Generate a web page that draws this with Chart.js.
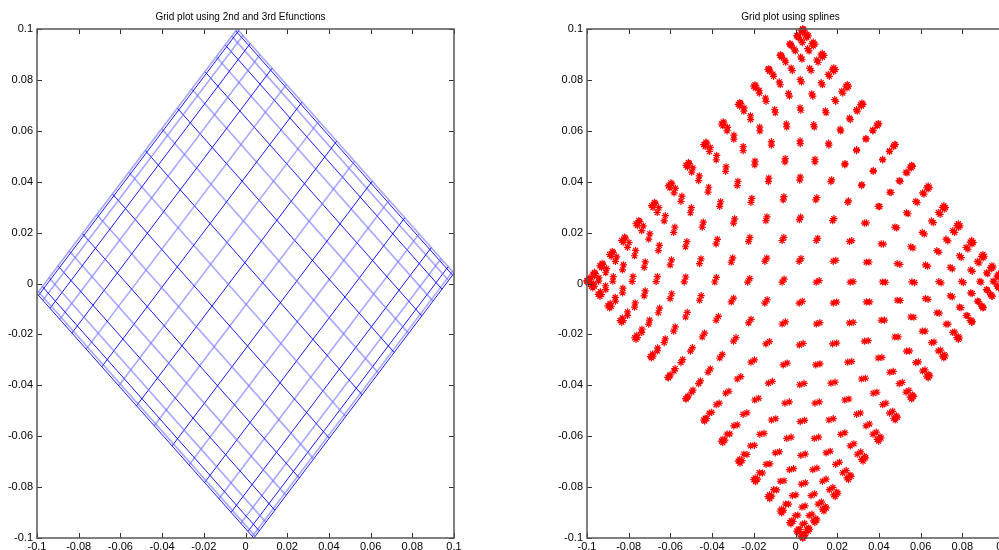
<!DOCTYPE html>
<html><head><meta charset="utf-8">
<script src="https://cdn.jsdelivr.net/npm/chart.js@4.4.1/dist/chart.umd.min.js"></script>
<style>
html,body{margin:0;padding:0;background:#fff;overflow:hidden;width:999px;height:550px;}
#wrap{position:relative;width:999px;height:550px;overflow:hidden;background:#fff;}
canvas{position:absolute;top:0;}
</style></head><body>
<div id="wrap">
<canvas id="c1" width="480" height="550" style="left:0px"></canvas>
<canvas id="c2" width="480" height="550" style="left:550px"></canvas>
</div>
<script>
// ---- tick values and labels (both axes, both plots) ----
const tickValues = [-0.1, -0.08, -0.06, -0.04, -0.02, 0, 0.02, 0.04, 0.06, 0.08, 0.1];
const tickLabels = ['-0.1', '-0.08', '-0.06', '-0.04', '-0.02', '0', '0.02', '0.04', '0.06', '0.08', '0.1'];
const titles = ['Grid plot using 2nd and 3rd Efunctions', 'Grid plot using splines'];

// ---- left plot: mapped grid, corners in order L, T, R, B ----
const efCornerX = [-0.1, -0.004, 0.1, 0.004];
const efCornerY = [-0.004, 0.1, 0.004, -0.1];
// relative position of each grid line along the edges
const efLinePos = [0, 0.007, 0.027, 0.060, 0.105, 0.161, 0.227, 0.299, 0.377, 0.459,
                   0.541, 0.623, 0.701, 0.773, 0.839, 0.895, 0.940, 0.973, 0.993, 1];

// ---- right plot: spline-evaluated grid nodes, corners L, T, R, B ----
const spCornerX = [-0.1, 0.0035, 0.1, 0.0035];
const spCornerY = [0.001, 0.1, 0.001, -0.1];
const spPosU  = [0, 0.007, 0.027, 0.060, 0.105, 0.161, 0.227, 0.299, 0.377, 0.459,
                 0.541, 0.623, 0.701, 0.773, 0.839, 0.895, 0.940, 0.973, 0.993, 1];
const spPosV  = [0, 0.007, 0.027, 0.060, 0.105, 0.161, 0.227, 0.299, 0.377, 0.459,
                 0.541, 0.623, 0.701, 0.773, 0.839, 0.895, 0.940, 0.973, 0.993, 1];
// second (overlapping) evaluation, slightly displaced nodes
const spPosU2 = [0, 0.010, 0.034, 0.070, 0.117, 0.174, 0.240, 0.312, 0.389, 0.470,
                 0.551, 0.631, 0.708, 0.778, 0.842, 0.897, 0.941, 0.974, 0.994, 1];
const spPosV2 = [0, 0.004, 0.021, 0.052, 0.097, 0.154, 0.221, 0.294, 0.375, 0.458,
                 0.545, 0.629, 0.709, 0.781, 0.847, 0.902, 0.945, 0.977, 0.995, 1];

function mapUV(cx, cy, u, v) {
  // bilinear: (0,0)=L, (1,0)=T, (1,1)=R, (0,1)=B
  const wL = (1 - u) * (1 - v), wT = u * (1 - v), wR = u * v, wB = (1 - u) * v;
  return { x: wL * cx[0] + wT * cx[1] + wR * cx[2] + wB * cx[3],
           y: wL * cy[0] + wT * cy[1] + wR * cy[2] + wB * cy[3] };
}

const DARK = 'rgba(0,0,255,0.9)', LIGHT = 'rgba(110,110,255,0.6)';
// left datasets: one line per grid line
const leftSets = [];
efLinePos.forEach((p, i) => {
  const darkA = i % 2 === 0;
  leftSets.push({ data: [mapUV(efCornerX, efCornerY, p, 0), mapUV(efCornerX, efCornerY, p, 1)],
    showLine: true, borderColor: darkA ? DARK : LIGHT, borderWidth: darkA ? 1 : 1.6, pointRadius: 0, fill: false });
  leftSets.push({ data: [mapUV(efCornerX, efCornerY, 0, p), mapUV(efCornerX, efCornerY, 1, p)],
    showLine: true, borderColor: !darkA ? DARK : LIGHT, borderWidth: !darkA ? 1 : 1.6, pointRadius: 0, fill: false });
});

// right datasets: star markers at nodes
const ptsA = [], ptsB = [];
spPosU.forEach(u => spPosV.forEach(v => ptsA.push(mapUV(spCornerX, spCornerY, u, v))));
spPosU2.forEach(u => spPosV2.forEach(v => ptsB.push(mapUV(spCornerX, spCornerY, u, v))));
const starStyle = { showLine: false, pointStyle: 'star', pointRadius: 3.6, pointBorderColor: '#ff0000',
  pointBackgroundColor: '#ff0000', pointBorderWidth: 1.2, clip: false };
const rightSets = [Object.assign({ data: ptsA }, starStyle), Object.assign({ data: ptsB }, starStyle)];

const FONT = '"Liberation Sans", Arial, Helvetica, sans-serif';

function scaleOpts(axis) {
  return {
    type: 'linear', min: -0.1, max: 0.1,
    afterBuildTicks: s => { s.ticks = tickValues.map(v => ({ value: v })); },
    afterFit: s => { if (axis === 'x') s.height = 12; else s.width = 37; },
    grid: { display: false, drawTicks: false },
    border: { display: false },
    ticks: { autoSkip: false, maxRotation: 0, minRotation: 0, padding: axis === 'x' ? 2 : 4, color: '#000',
      font: { family: FONT, size: 11 }, callback: (v, i) => tickLabels[i] }
  };
}

const framePlugin = {
  id: 'frame',
  afterDraw(chart) {
    const { ctx, chartArea: a, scales: { x, y } } = chart;
    ctx.save();
    // inward tick marks
    ctx.strokeStyle = '#333'; ctx.lineWidth = 1;
    ctx.beginPath();
    tickValues.forEach(v => {
      const px = Math.round(x.getPixelForValue(v)) + 0.5;
      ctx.moveTo(px, a.bottom); ctx.lineTo(px, a.bottom - 5);
      ctx.moveTo(px, a.top); ctx.lineTo(px, a.top + 5);
      const py = Math.round(y.getPixelForValue(v)) + 0.5;
      ctx.moveTo(a.left, py); ctx.lineTo(a.left + 5, py);
      ctx.moveTo(a.right, py); ctx.lineTo(a.right - 5, py);
    });
    ctx.stroke();
    // box
    ctx.strokeStyle = '#555'; ctx.lineWidth = 1.5;
    ctx.strokeRect(a.left, a.top, a.right - a.left, a.bottom - a.top);
    // title
    ctx.fillStyle = '#000';
    ctx.font = '10px ' + FONT;
    ctx.textAlign = 'center'; ctx.textBaseline = 'middle';
    ctx.fillText(chart.options.plugins.frame.title, (a.left + a.right) / 2 - 5, a.top - 12);
    ctx.restore();
  }
};

function makeChart(id, datasets, title) {
  return new Chart(document.getElementById(id), {
    type: 'scatter',
    data: { datasets },
    options: {
      responsive: false, animation: false, devicePixelRatio: 1,
      layout: { padding: { left: 0, top: 29, right: 26, bottom: 0 } },
      plugins: { legend: { display: false }, tooltip: { enabled: false }, title: { display: false }, frame: { title } },
      scales: { x: scaleOpts('x'), y: scaleOpts('y') },
      elements: { line: { tension: 0 } }
    },
    plugins: [framePlugin]
  });
}

makeChart('c1', leftSets, titles[0]);
makeChart('c2', rightSets, titles[1]);
</script>
</body></html>
